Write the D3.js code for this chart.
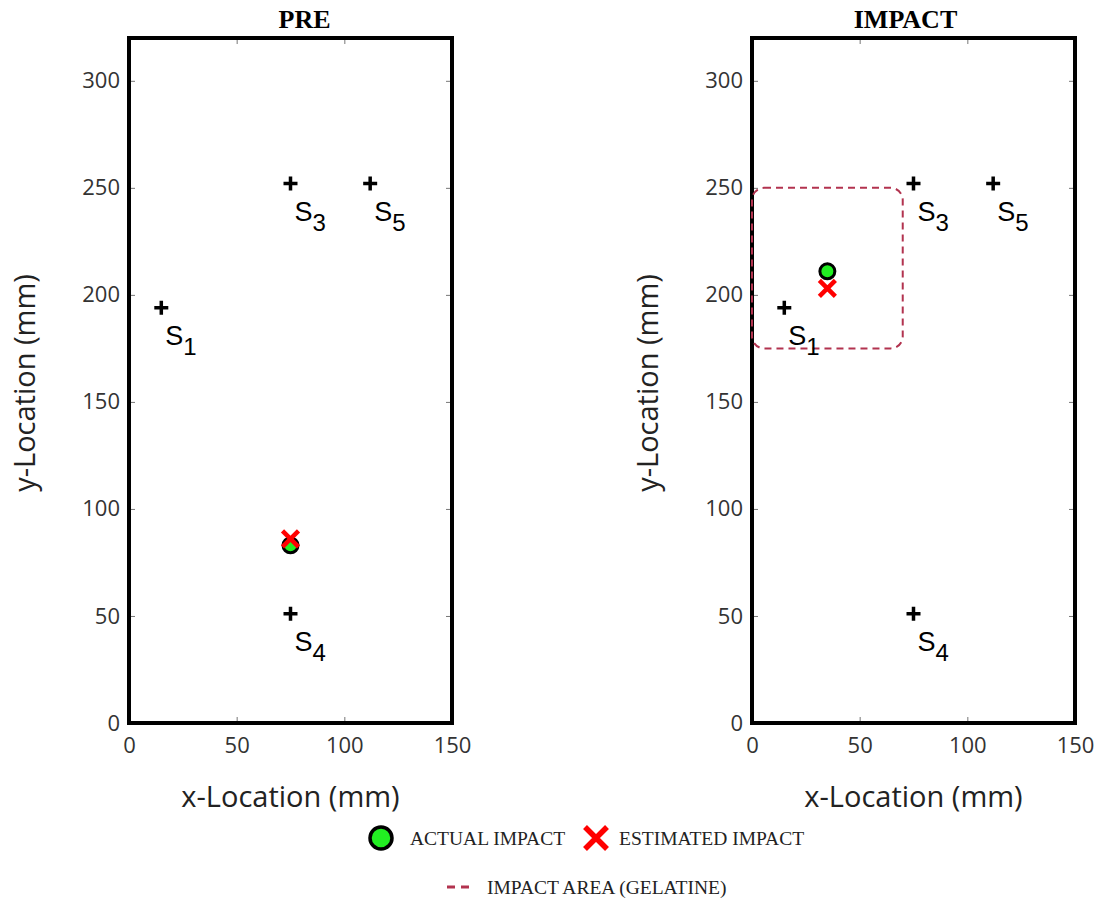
<!DOCTYPE html>
<html>
<head>
<meta charset="utf-8">
<script src="https://cdn.jsdelivr.net/npm/d3@7"></script>
<style>
  body { margin: 0; background: #fff; }
</style>
</head>
<body>
<div id="chart"></div>
<script>
// sensor positions (mm)
const sensorNames = ["1", "3", "4", "5"];
const sensorX = [15, 75, 75, 112];
const sensorY = [194, 252, 51, 252];

// panels
const panelTitles = ["PRE", "IMPACT"];
const actualX = [75, 35];
const actualY = [83, 211];
const estimatedX = [75, 35];
const estimatedY = [86, 203];

// impact area (gelatine), only on IMPACT panel: [x0, x1, y0, y1]
const impactArea = [0, 70, 175, 250];

const xTicks = [0, 50, 100, 150];
const yTicks = [0, 50, 100, 150, 200, 250, 300];

const width = 1097, height = 898;
const svg = d3.select("#chart").append("svg")
    .attr("width", width)
    .attr("height", height);

const panelLeft = [129, 752];
const titleDx = [14, -8];   // titles sit a bit off-centre in the original
const plotW = 323, plotTop = 38, plotBottom = 723;
const sans = "Open Sans, sans-serif";

panelTitles.forEach((title, i) => {
    const x = d3.scaleLinear().domain([0, 150]).range([panelLeft[i], panelLeft[i] + plotW]);
    const y = d3.scaleLinear().domain([0, 320]).range([plotBottom, plotTop]);

    const g = svg.append("g");

    // ticks (inward, all sides)
    g.append("g")
        .attr("transform", `translate(0,${plotBottom})`)
        .call(d3.axisBottom(x).tickValues(xTicks).tickSize(-6).tickPadding(14))
        .call(a => a.select(".domain").remove())
        .call(a => a.selectAll("line").attr("stroke", "#777"))
        .call(a => a.selectAll("text").attr("font-size", 22).attr("fill", "#333")
            .attr("font-family", sans));
    g.append("g")
        .attr("transform", `translate(0,${plotTop})`)
        .call(d3.axisTop(x).tickValues(xTicks).tickSize(-6).tickFormat(""))
        .call(a => a.select(".domain").remove())
        .call(a => a.selectAll("line").attr("stroke", "#777"));
    g.append("g")
        .attr("transform", `translate(${panelLeft[i]},0)`)
        .call(d3.axisLeft(y).tickValues(yTicks).tickSize(-6).tickPadding(9))
        .call(a => a.select(".domain").remove())
        .call(a => a.selectAll("line").attr("stroke", "#777"))
        .call(a => a.selectAll("text").attr("font-size", 22).attr("fill", "#333")
            .attr("font-family", sans));
    g.append("g")
        .attr("transform", `translate(${panelLeft[i] + plotW},0)`)
        .call(d3.axisRight(y).tickValues(yTicks).tickSize(-6).tickFormat(""))
        .call(a => a.select(".domain").remove())
        .call(a => a.selectAll("line").attr("stroke", "#777"));

    // frame
    g.append("rect")
        .attr("x", x(0)).attr("y", y(320))
        .attr("width", x(150) - x(0)).attr("height", y(0) - y(320))
        .attr("fill", "none").attr("stroke", "#000").attr("stroke-width", 4);

    // title
    g.append("text")
        .attr("x", (x(0) + x(150)) / 2 + titleDx[i]).attr("y", 28)
        .attr("text-anchor", "middle")
        .attr("font-family", "Liberation Serif, serif")
        .attr("font-weight", "bold").attr("font-size", 26)
        .text(title);

    // axis labels
    g.append("text")
        .attr("x", (x(0) + x(150)) / 2).attr("y", 807)
        .attr("text-anchor", "middle")
        .attr("font-family", sans)
        .attr("font-size", 29).attr("fill", "#222")
        .text("x-Location (mm)");
    g.append("text")
        .attr("transform", `translate(${panelLeft[i] - 94},383) rotate(-90)`)
        .attr("text-anchor", "middle")
        .attr("font-family", sans)
        .attr("font-size", 29).attr("fill", "#222")
        .text("y-Location (mm)");

    // impact area
    if (title === "IMPACT") {
        g.append("rect")
            .attr("x", x(impactArea[0])).attr("y", y(impactArea[3]))
            .attr("width", x(impactArea[1]) - x(impactArea[0]))
            .attr("height", y(impactArea[2]) - y(impactArea[3]))
            .attr("rx", 12)
            .attr("fill", "none").attr("stroke", "#b2334f")
            .attr("stroke-width", 2).attr("stroke-dasharray", "7,5");
    }

    // sensors
    sensorNames.forEach((s, k) => {
        const cx = x(sensorX[k]), cy = y(sensorY[k]);
        g.append("path")
            .attr("d", `M${cx - 7},${cy}H${cx + 7}M${cx},${cy - 7}V${cy + 7}`)
            .attr("stroke", "#000").attr("stroke-width", 3.5);
        const t = g.append("text")
            .attr("x", cx + 4).attr("y", cy + 37)
            .attr("font-family", "Liberation Sans, Arial, sans-serif")
            .attr("font-size", 27);
        t.append("tspan").text("S");
        t.append("tspan").attr("dy", 10).attr("font-size", 24).text(s);
    });

    // actual impact
    g.append("circle")
        .attr("cx", x(actualX[i])).attr("cy", y(actualY[i])).attr("r", 7.5)
        .attr("fill", "#22ee22").attr("stroke", "#000").attr("stroke-width", 3);

    // estimated impact
    const ex = x(estimatedX[i]), ey = y(estimatedY[i]);
    g.append("path")
        .attr("d", `M${ex - 8},${ey - 8}L${ex + 8},${ey + 8}M${ex - 8},${ey + 8}L${ex + 8},${ey - 8}`)
        .attr("stroke", "#ff0000").attr("stroke-width", 4.5);
});

// legend
const leg = svg.append("g").attr("font-family", "Liberation Serif, serif").attr("font-size", 19.5).attr("fill", "#222");
leg.append("circle").attr("cx", 381).attr("cy", 838).attr("r", 11)
    .attr("fill", "#22ee22").attr("stroke", "#000").attr("stroke-width", 3.5);
leg.append("text").attr("x", 410).attr("y", 845).text("ACTUAL IMPACT");
leg.append("path").attr("d", "M585,827L607,849M585,849L607,827")
    .attr("stroke", "#ff0000").attr("stroke-width", 5.5);
leg.append("text").attr("x", 619).attr("y", 845).text("ESTIMATED IMPACT");
leg.append("line").attr("x1", 447).attr("x2", 472).attr("y1", 887).attr("y2", 887)
    .attr("stroke", "#b2334f").attr("stroke-width", 3).attr("stroke-dasharray", "8,6");
leg.append("text").attr("x", 487).attr("y", 894).text("IMPACT AREA (GELATINE)");
</script>
</body>
</html>
